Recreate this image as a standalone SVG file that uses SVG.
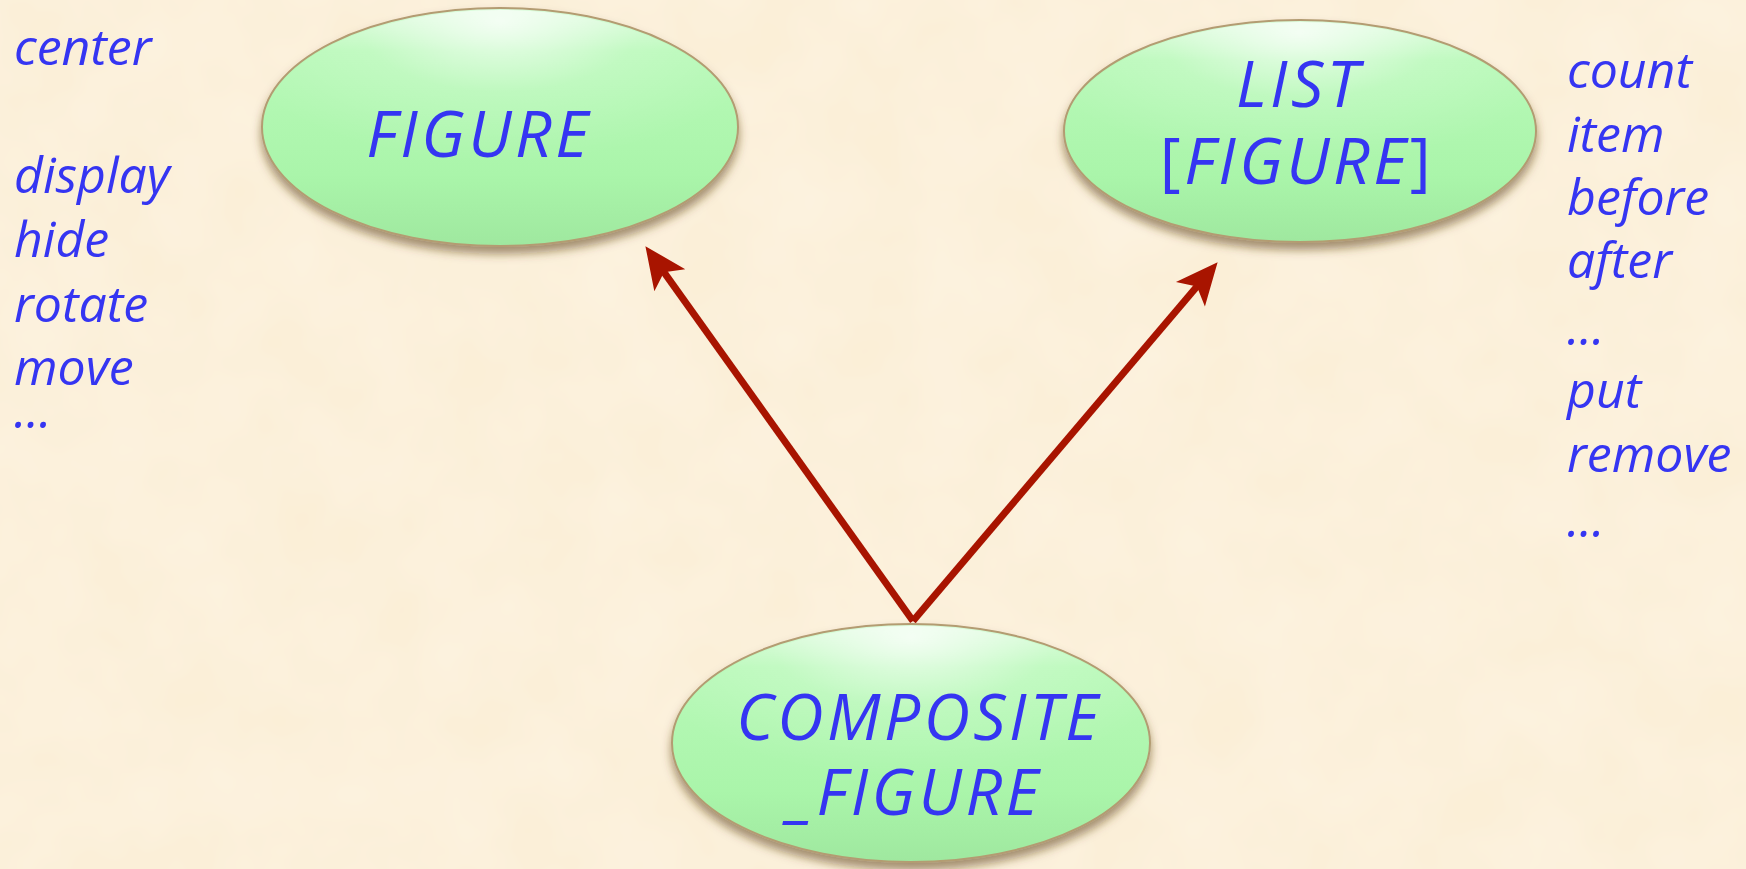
<svg xmlns="http://www.w3.org/2000/svg" width="1746" height="869" viewBox="0 0 1746 869">
  <defs>
    <style>
      .label { font-family: "Open Sans", "Noto Sans", "DejaVu Sans", sans-serif; font-style: italic; fill: #3535f2; }
      .node-text { font-size: 64px; letter-spacing: 3.5px; text-anchor: middle; }
      .feature { font-size: 50px; }
      .bubble { fill: url(#bubbleFill); stroke: #b39c72; stroke-width: 2; filter: url(#dropShadow); }
      .gloss { fill: url(#bubbleGloss); }
      .edge { stroke: #a81400; stroke-width: 7; fill: none; marker-end: url(#head); }
    </style>
    <linearGradient id="bubbleFill" x1="0" y1="0" x2="0" y2="1">
      <stop offset="0" stop-color="#dcfcdc"/>
      <stop offset="0.18" stop-color="#b8f9b8"/>
      <stop offset="0.7" stop-color="#aaf5aa"/>
      <stop offset="1" stop-color="#9fe89f"/>
    </linearGradient>
    <radialGradient id="bubbleGloss" cx="0.5" cy="0.05" r="0.6">
      <stop offset="0" stop-color="#ffffff" stop-opacity="0.75"/>
      <stop offset="0.5" stop-color="#ffffff" stop-opacity="0.15"/>
      <stop offset="1" stop-color="#ffffff" stop-opacity="0"/>
    </radialGradient>
    <filter id="dropShadow" x="-10%" y="-10%" width="120%" height="130%">
      <feDropShadow dx="0" dy="7" stdDeviation="5" flood-color="#5c3f16" flood-opacity="0.55"/>
    </filter>
    <filter id="paper" x="0" y="0" width="100%" height="100%">
      <feTurbulence type="fractalNoise" baseFrequency="0.012" numOctaves="3" seed="4" result="noise"/>
      <feColorMatrix in="noise" type="matrix" values="0 0 0 0 1  0 0 0 0 0.97  0 0 0 0 0.9  0 0 0 0.35 0" result="tint"/>
      <feComposite in="tint" in2="SourceGraphic" operator="over"/>
    </filter>
    <marker id="head" markerUnits="userSpaceOnUse" viewBox="-40 -24 60 48" refX="0" refY="0" markerWidth="60" markerHeight="48" orient="auto" overflow="visible">
      <path d="M11,0 L-31,-19 L-21,0 L-31,19 Z" fill="#a81400"/>
    </marker>
  </defs>

  <!-- parchment background -->
  <rect width="1746" height="869" fill="#fbeed5" filter="url(#paper)"/>

  <!-- feature lists -->
  <g id="figure-features" class="label feature">
    <text x="14" y="65">center</text>
    <text x="14" y="193">display</text>
    <text x="14" y="257">hide</text>
    <text x="14" y="322">rotate</text>
    <text x="14" y="385">move</text>
    <text x="14" y="428">...</text>
  </g>
  <g id="list-features" class="label feature">
    <text x="1567" y="88">count</text>
    <text x="1567" y="152">item</text>
    <text x="1567" y="215">before</text>
    <text x="1567" y="278">after</text>
    <text x="1567" y="345">...</text>
    <text x="1567" y="408">put</text>
    <text x="1567" y="472">remove</text>
    <text x="1567" y="537">...</text>
  </g>

  <!-- inheritance links -->
  <g id="connectors">
    <line class="edge" x1="913" y1="621" x2="651.8" y2="255.1"/>
    <line class="edge" x1="913" y1="621" x2="1210.5" y2="270.6"/>
  </g>

  <g id="node-figure">
    <ellipse class="bubble" cx="500" cy="127" rx="238" ry="119"/>
    <ellipse class="gloss" cx="500" cy="127" rx="236" ry="117"/>
    <text class="label node-text" x="479" y="157">FIGURE</text>
  </g>

  <g id="node-list">
    <ellipse class="bubble" cx="1300" cy="131" rx="236" ry="111"/>
    <ellipse class="gloss" cx="1300" cy="131" rx="234" ry="109"/>
    <text class="label node-text" x="1299" y="107">LIST</text>
    <text class="label node-text" x="1297" y="184"><tspan font-style="normal">[</tspan>FIGURE<tspan font-style="normal">]</tspan></text>
  </g>

  <g id="node-composite">
    <ellipse class="bubble" cx="911" cy="743" rx="239" ry="119"/>
    <ellipse class="gloss" cx="911" cy="743" rx="237" ry="117"/>
    <text class="label node-text" x="919" y="740">COMPOSITE</text>
    <text class="label node-text" x="915" y="815">_FIGURE</text>
  </g>
</svg>
